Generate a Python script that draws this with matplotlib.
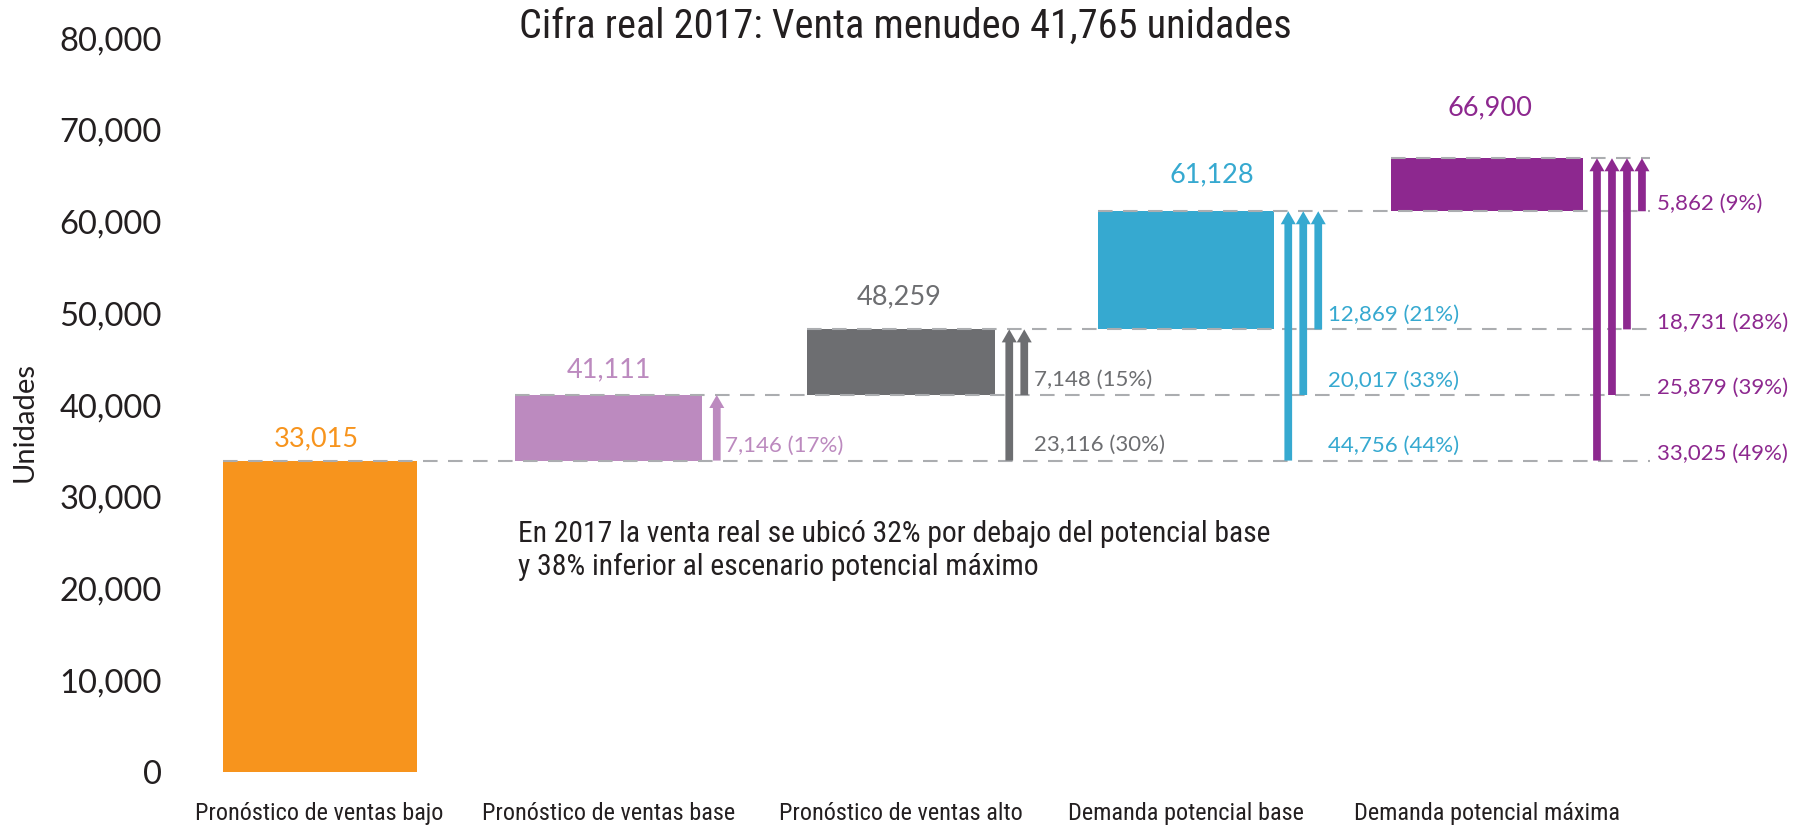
import numpy as np
import matplotlib as mlp
mlp.use("Agg")
import matplotlib.pyplot as plt
from matplotlib import font_manager

# data
categories = ["Pronóstico de ventas bajo", "Pronóstico de ventas base",
              "Pronóstico de ventas alto", "Demanda potencial base",
              "Demanda potencial máxima"]
values = [33965, 41111, 48259, 61128, 66900]
value_labels = ["33,015", "41,111", "48,259", "61,128", "66,900"]
# one list per bar, arrow from each lower level (lowest first)
gap_labels = [
    [],
    ["7,146 (17%)"],
    ["23,116 (30%)", "7,148 (15%)"],
    ["44,756 (44%)", "20,017 (33%)", "12,869 (21%)"],
    ["33,025 (49%)", "25,879 (39%)", "18,731 (28%)", "5,862 (9%)"],
]
title = "Cifra real 2017: Venta menudeo 41,765 unidades"
note = ("En 2017 la venta real se ubicó 32% por debajo del potencial base\n"
        "y 38% inferior al escenario potencial máximo")

colors = ["#F7941D", "#BC8ABF", "#6D6E71", "#36A9D0", "#8D288F"]
dark = "#231F20"
dash_col = "#ABADB0"

avail = {f.name for f in font_manager.fontManager.ttflist}
base = "Lato" if "Lato" in avail else "DejaVu Sans"
plt.rcParams['font.family'] = [base, 'DejaVu Sans']

# condensed face for the narrow texts, if one is installed
narrow = None
for name in ["Roboto Condensed", "Liberation Sans Narrow", "Open Sans Condensed"]:
    if name in avail:
        narrow = name
        break
if narrow:
    nfam = [narrow, 'DejaVu Sans']
    s_title, s_cat, s_note = 29, 17.5, 21.3
else:
    nfam = [base, 'DejaVu Sans']
    s_title, s_cat, s_note = 27, 16, 19.5

fig = plt.figure(figsize=(17.96, 8.27), dpi=100)
ax = fig.add_axes([0.1002, 0.0661, 0.8898, 0.8879])

# layout: small nudges / widths as in the original
x = np.arange(len(values)) + np.array([0, -0.004, 0.005, -0.013, 0.024])
bw = np.array([0.669, 0.648, 0.647, 0.607, 0.662])
bottoms = [0] + values[:-1]
heights = [values[0]] + [values[i] - values[i - 1] for i in range(1, len(values))]
ax.bar(x, heights, bottom=bottoms, width=bw, color=colors, zorder=2)

# arrows
first_off = 0.0493
step = 0.0517
arrow_x = []
for i in range(len(values)):
    arrow_x.append([x[i] + bw[i] / 2 + first_off + j * step for j in range(i)])
x_end = arrow_x[-1][-1] + 0.026

# dashed reference lines
for k, v in enumerate(values):
    ax.plot([x[k] - bw[k] / 2, x_end], [v, v], color=dash_col, lw=1.5,
            linestyle=(0, (7, 5)), zorder=3)

txt_dx = [0, 8, 10, 10, 14.7]
txt_dy = [0, 15, 15.5, 14.5, 7]
for i in range(1, len(values)):
    xs = arrow_x[i]
    for j in range(i):
        ax.arrow(xs[j], values[j], 0, values[i] - values[j], width=0.0266,
                 head_width=0.0517, head_length=1416, length_includes_head=True,
                 color=colors[i], zorder=4, linewidth=0)
    for j in range(i):
        ax.annotate(gap_labels[i][j], (xs[-1], values[j]),
                    xytext=(txt_dx[i] * 0.72, txt_dy[i] * 0.72),
                    textcoords="offset points",
                    ha="left", va="center", fontsize=16, color=colors[i])

# value labels over bars (offsets in px)
lab_off = [(-3, 21.7), (0, 25), (-2, 32.7), (26, 36), (3.3, 50)]
for i, v in enumerate(values):
    ax.annotate(value_labels[i], (x[i], v),
                xytext=(lab_off[i][0] * 0.72, lab_off[i][1] * 0.72),
                textcoords="offset points", ha="center", va="center",
                fontsize=19.5, color=colors[i])

ax.set_xlim(-0.4817, 5.0286)
ax.set_ylim(0, 80000)
ax.set_yticks(np.arange(0, 80001, 10000))
ax.set_yticklabels(["{:,}".format(t) for t in range(0, 80001, 10000)])
ax.set_xticks(x)
ax.set_xticklabels(categories, family=nfam, fontsize=s_cat, color=dark)
ax.tick_params(axis="y", length=0, pad=13, labelsize=23.5, labelcolor=dark)
ax.tick_params(axis="x", length=0, pad=21)
for s in ax.spines.values():
    s.set_visible(False)

ax.set_ylabel("Unidades", fontsize=21, color=dark)
ax.yaxis.set_label_coords(-0.0888, 0.4775)

fig.text(905 / 1796, 1 - 26 / 827, title, ha="center", va="center",
         fontsize=s_title, color=dark, family=nfam)
fig.text(518 / 1796, 1 - 520 / 827, note, ha="left", va="top",
         fontsize=s_note, color=dark, family=nfam, linespacing=1.2)

plt.savefig("out.png", dpi=100)
